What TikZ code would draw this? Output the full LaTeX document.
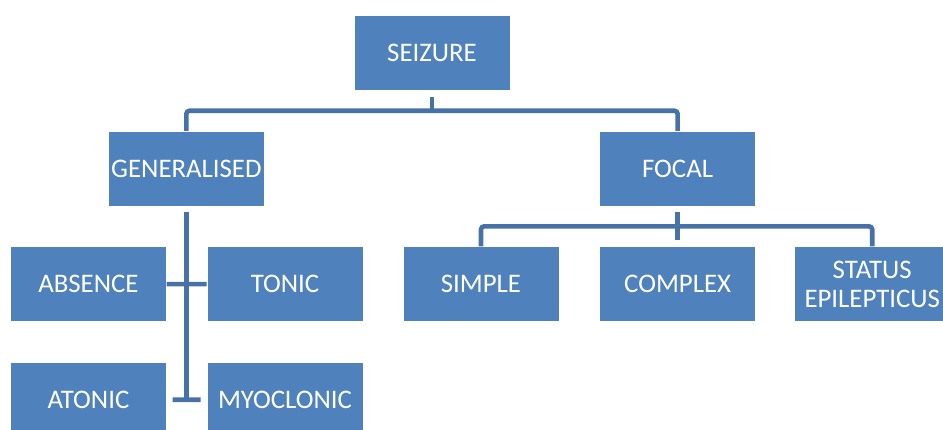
\documentclass[tikz,border=0pt]{standalone}
\usepackage{fontspec}
\setmainfont{Carlito}
\usetikzlibrary{positioning,calc}

\definecolor{boxblue}{RGB}{79,129,189}
\definecolor{lineblue}{RGB}{70,114,168}

\begin{document}
\begin{tikzpicture}[node distance=40pt,
    block/.style={rectangle, fill=boxblue, draw=white, line width=0.6pt,
      minimum width=156pt, minimum height=75pt, inner sep=0pt,
      text=white, align=center, font=\fontsize{26.8}{29}\selectfont},
    branch/.style={draw=lineblue, line width=4.6pt, rounded corners=3pt,
      shorten <=6pt, shorten >=6pt}]
    \useasboundingbox (0,0) rectangle (943pt,-430pt);

    \node[block] (seizure) at (432pt,-53pt) {SEIZURE};
    \node[block] (gen)   [below left=40pt and 89pt of seizure]  {GENERALISED};
    \node[block] (focal) [below right=40pt and 89pt of seizure] {FOCAL};

    \node[block] (absence)   [below=of gen, xshift=-98pt] {ABSENCE};
    \node[block] (tonic)     [right=of absence]  {TONIC};
    \node[block] (atonic)    [below=of absence]  {ATONIC};
    \node[block] (myoclonic) [right=of atonic]   {MYOCLONIC};

    \node[block] (complex) [below=of focal]  {COMPLEX};
    \node[block] (simple)  [left=of complex] {SIMPLE};
    \node[block] (status)  [right=of complex, xshift=-2pt] {STATUS\\EPILEPTICUS};

    \coordinate (topbar)   at ($(seizure.south)+(0,-20pt)$);
    \coordinate (focalbar) at ($(focal.south)+(0,-20pt)$);
    \coordinate (genend)   at (gen.south |- atonic);

    \path[branch]
    (gen.north) |- (topbar) -| (focal.north)
    (simple.north) |- (focalbar) -| (status.north)
    (absence.east) -- (tonic.west)
    (atonic.east) -- (myoclonic.west)
    ;
    \draw[branch, shorten >=0pt] (seizure.south) -- (topbar);
    \draw[branch] (focal.south) -- (complex.north);
    \draw[branch, shorten >=0pt] (gen.south) -- (genend);
  \end{tikzpicture}
\end{document}
